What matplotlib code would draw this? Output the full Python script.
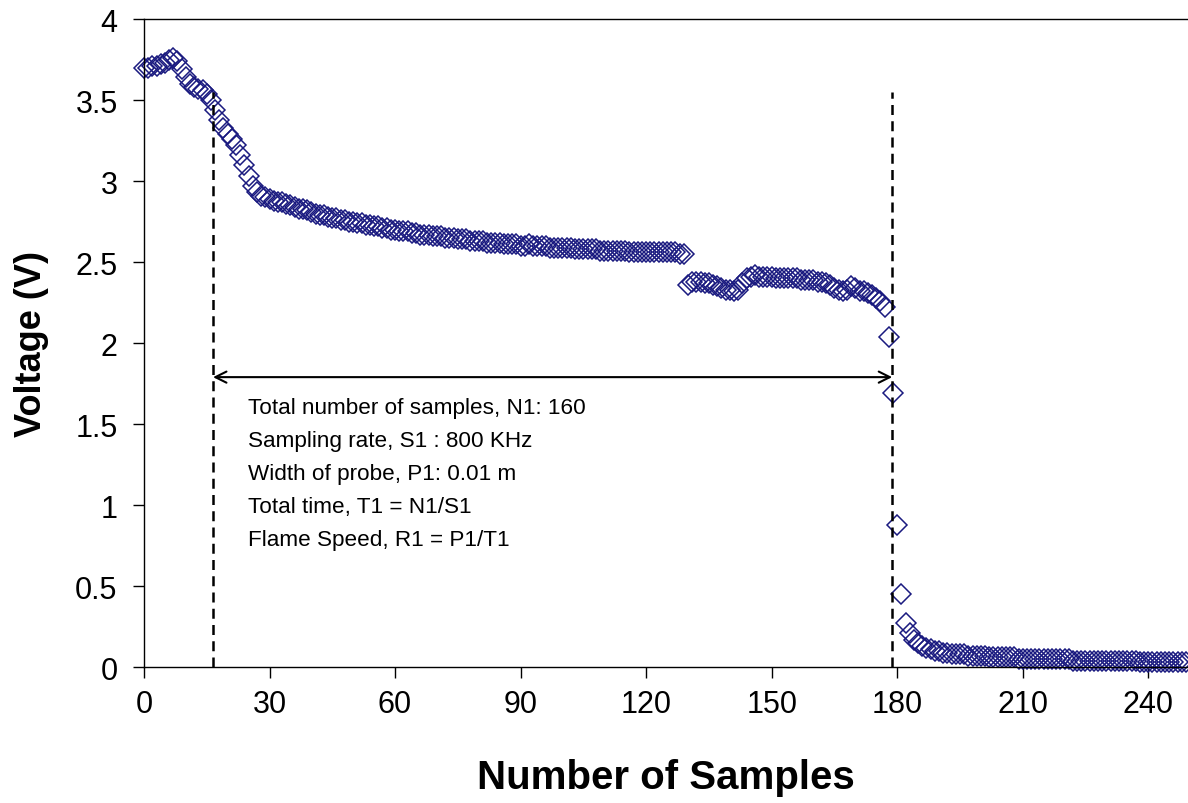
from matplotlib import pyplot as plt
import numpy as np

# voltage, one value per sample (0..249)
voltage = [
    3.70, 3.70, 3.71, 3.71, 3.72, 3.73, 3.75, 3.76, 3.74, 3.69,
    3.64, 3.60, 3.58, 3.57, 3.56, 3.54, 3.50, 3.44, 3.38, 3.33,
    3.29, 3.26, 3.22, 3.16, 3.10, 3.03, 2.97, 2.93, 2.91, 2.90,
    2.89, 2.88, 2.87, 2.87, 2.86, 2.85, 2.84, 2.83, 2.83, 2.82,
    2.81, 2.80, 2.79, 2.79, 2.78, 2.77, 2.77, 2.76, 2.76, 2.75,
    2.75, 2.74, 2.74, 2.73, 2.73, 2.72, 2.72, 2.71, 2.71, 2.70,
    2.70, 2.69, 2.69, 2.69, 2.68, 2.68, 2.67, 2.67, 2.67, 2.66,
    2.66, 2.66, 2.65, 2.65, 2.65, 2.64, 2.64, 2.64, 2.63, 2.63,
    2.63, 2.63, 2.62, 2.62, 2.62, 2.62, 2.61, 2.61, 2.61, 2.61,
    2.60, 2.60, 2.61, 2.60, 2.60, 2.60, 2.60, 2.59, 2.59, 2.59,
    2.59, 2.59, 2.59, 2.58, 2.58, 2.58, 2.58, 2.58, 2.58, 2.57,
    2.57, 2.57, 2.57, 2.57, 2.57, 2.57, 2.56, 2.56, 2.56, 2.56,
    2.56, 2.56, 2.56, 2.56, 2.56, 2.56, 2.56, 2.56, 2.55, 2.55,
    2.36, 2.38, 2.38, 2.38, 2.37, 2.37, 2.36, 2.35, 2.34, 2.33,
    2.33, 2.32, 2.33, 2.37, 2.40, 2.41, 2.42, 2.41, 2.41, 2.41,
    2.41, 2.40, 2.40, 2.40, 2.40, 2.40, 2.40, 2.39, 2.39, 2.39,
    2.39, 2.38, 2.38, 2.37, 2.36, 2.34, 2.33, 2.32, 2.33, 2.35,
    2.34, 2.32, 2.32, 2.31, 2.30, 2.28, 2.26, 2.22, 2.04, 1.69,
    0.88, 0.45, 0.27, 0.21, 0.17, 0.15, 0.13, 0.12, 0.11, 0.10,
    0.10, 0.09, 0.09, 0.08, 0.08, 0.08, 0.08, 0.07, 0.07, 0.07,
    0.07, 0.07, 0.06, 0.06, 0.06, 0.06, 0.06, 0.06, 0.06, 0.05,
    0.05, 0.05, 0.05, 0.05, 0.05, 0.05, 0.05, 0.05, 0.05, 0.05,
    0.05, 0.05, 0.04, 0.04, 0.04, 0.04, 0.04, 0.04, 0.04, 0.04,
    0.04, 0.04, 0.04, 0.04, 0.04, 0.04, 0.04, 0.04, 0.03, 0.03,
    0.03, 0.03, 0.03, 0.03, 0.03, 0.03, 0.03, 0.03, 0.03, 0.03,
]
samples = np.arange(len(voltage))

start_sample = 16.5
end_sample = 178.8
marker_top = 3.55
arrow_level = 1.79

notes = [
    "Total number of samples, N1: 160",
    "Sampling rate, S1 : 800 KHz",
    "Width of probe, P1: 0.01 m",
    "Total time, T1 = N1/S1",
    "Flame Speed, R1 = P1/T1",
]


def main():
    plt.rcParams['font.family'] = ['Liberation Sans', 'DejaVu Sans']
    fig = plt.figure(figsize=(11.88, 8.04), dpi=100)
    ax = fig.add_axes([0.1212, 0.169, 0.8788, 0.806])

    ax.plot(samples, voltage, linestyle='none', marker='D', markersize=10.5,
            markerfacecolor='none', markeredgecolor='#1a1a80', markeredgewidth=1.1,
            clip_on=False)

    for xs in (start_sample, end_sample):
        ax.plot([xs, xs], [0, marker_top], color='black', linestyle=(0, (4, 2.5)), linewidth=1.8)

    ax.annotate('', xy=(start_sample, arrow_level), xytext=(end_sample, arrow_level),
                arrowprops=dict(arrowstyle='<->', color='black', lw=1.5,
                                shrinkA=0, shrinkB=0, mutation_scale=20))

    for i, line in enumerate(notes):
        ax.text(24.8, 1.605 - i * 0.204, line, fontsize=16.2, va='center', ha='left')

    ax.set_xlim(0, 249.5)
    ax.set_ylim(0, 4)
    ax.set_xticks(np.arange(0, 241, 30))
    ax.set_yticks(np.arange(0, 4.01, 0.5))
    ax.set_yticklabels(['0', '0.5', '1', '1.5', '2', '2.5', '3', '3.5', '4'])
    ax.tick_params(direction='out', length=8, width=1, labelsize=22)
    ax.tick_params(axis='y', pad=11)
    ax.tick_params(axis='x', pad=8)
    ax.spines['right'].set_visible(False)
    for s in ('left', 'bottom', 'top'):
        ax.spines[s].set_linewidth(1.0)

    ax.set_xlabel('Number of Samples', fontsize=29, fontweight='bold', labelpad=28)
    ax.set_ylabel('Voltage (V)', fontsize=26, fontweight='bold', labelpad=19)

    plt.savefig("out.png", dpi=100)


if __name__ == "__main__":
    main()
